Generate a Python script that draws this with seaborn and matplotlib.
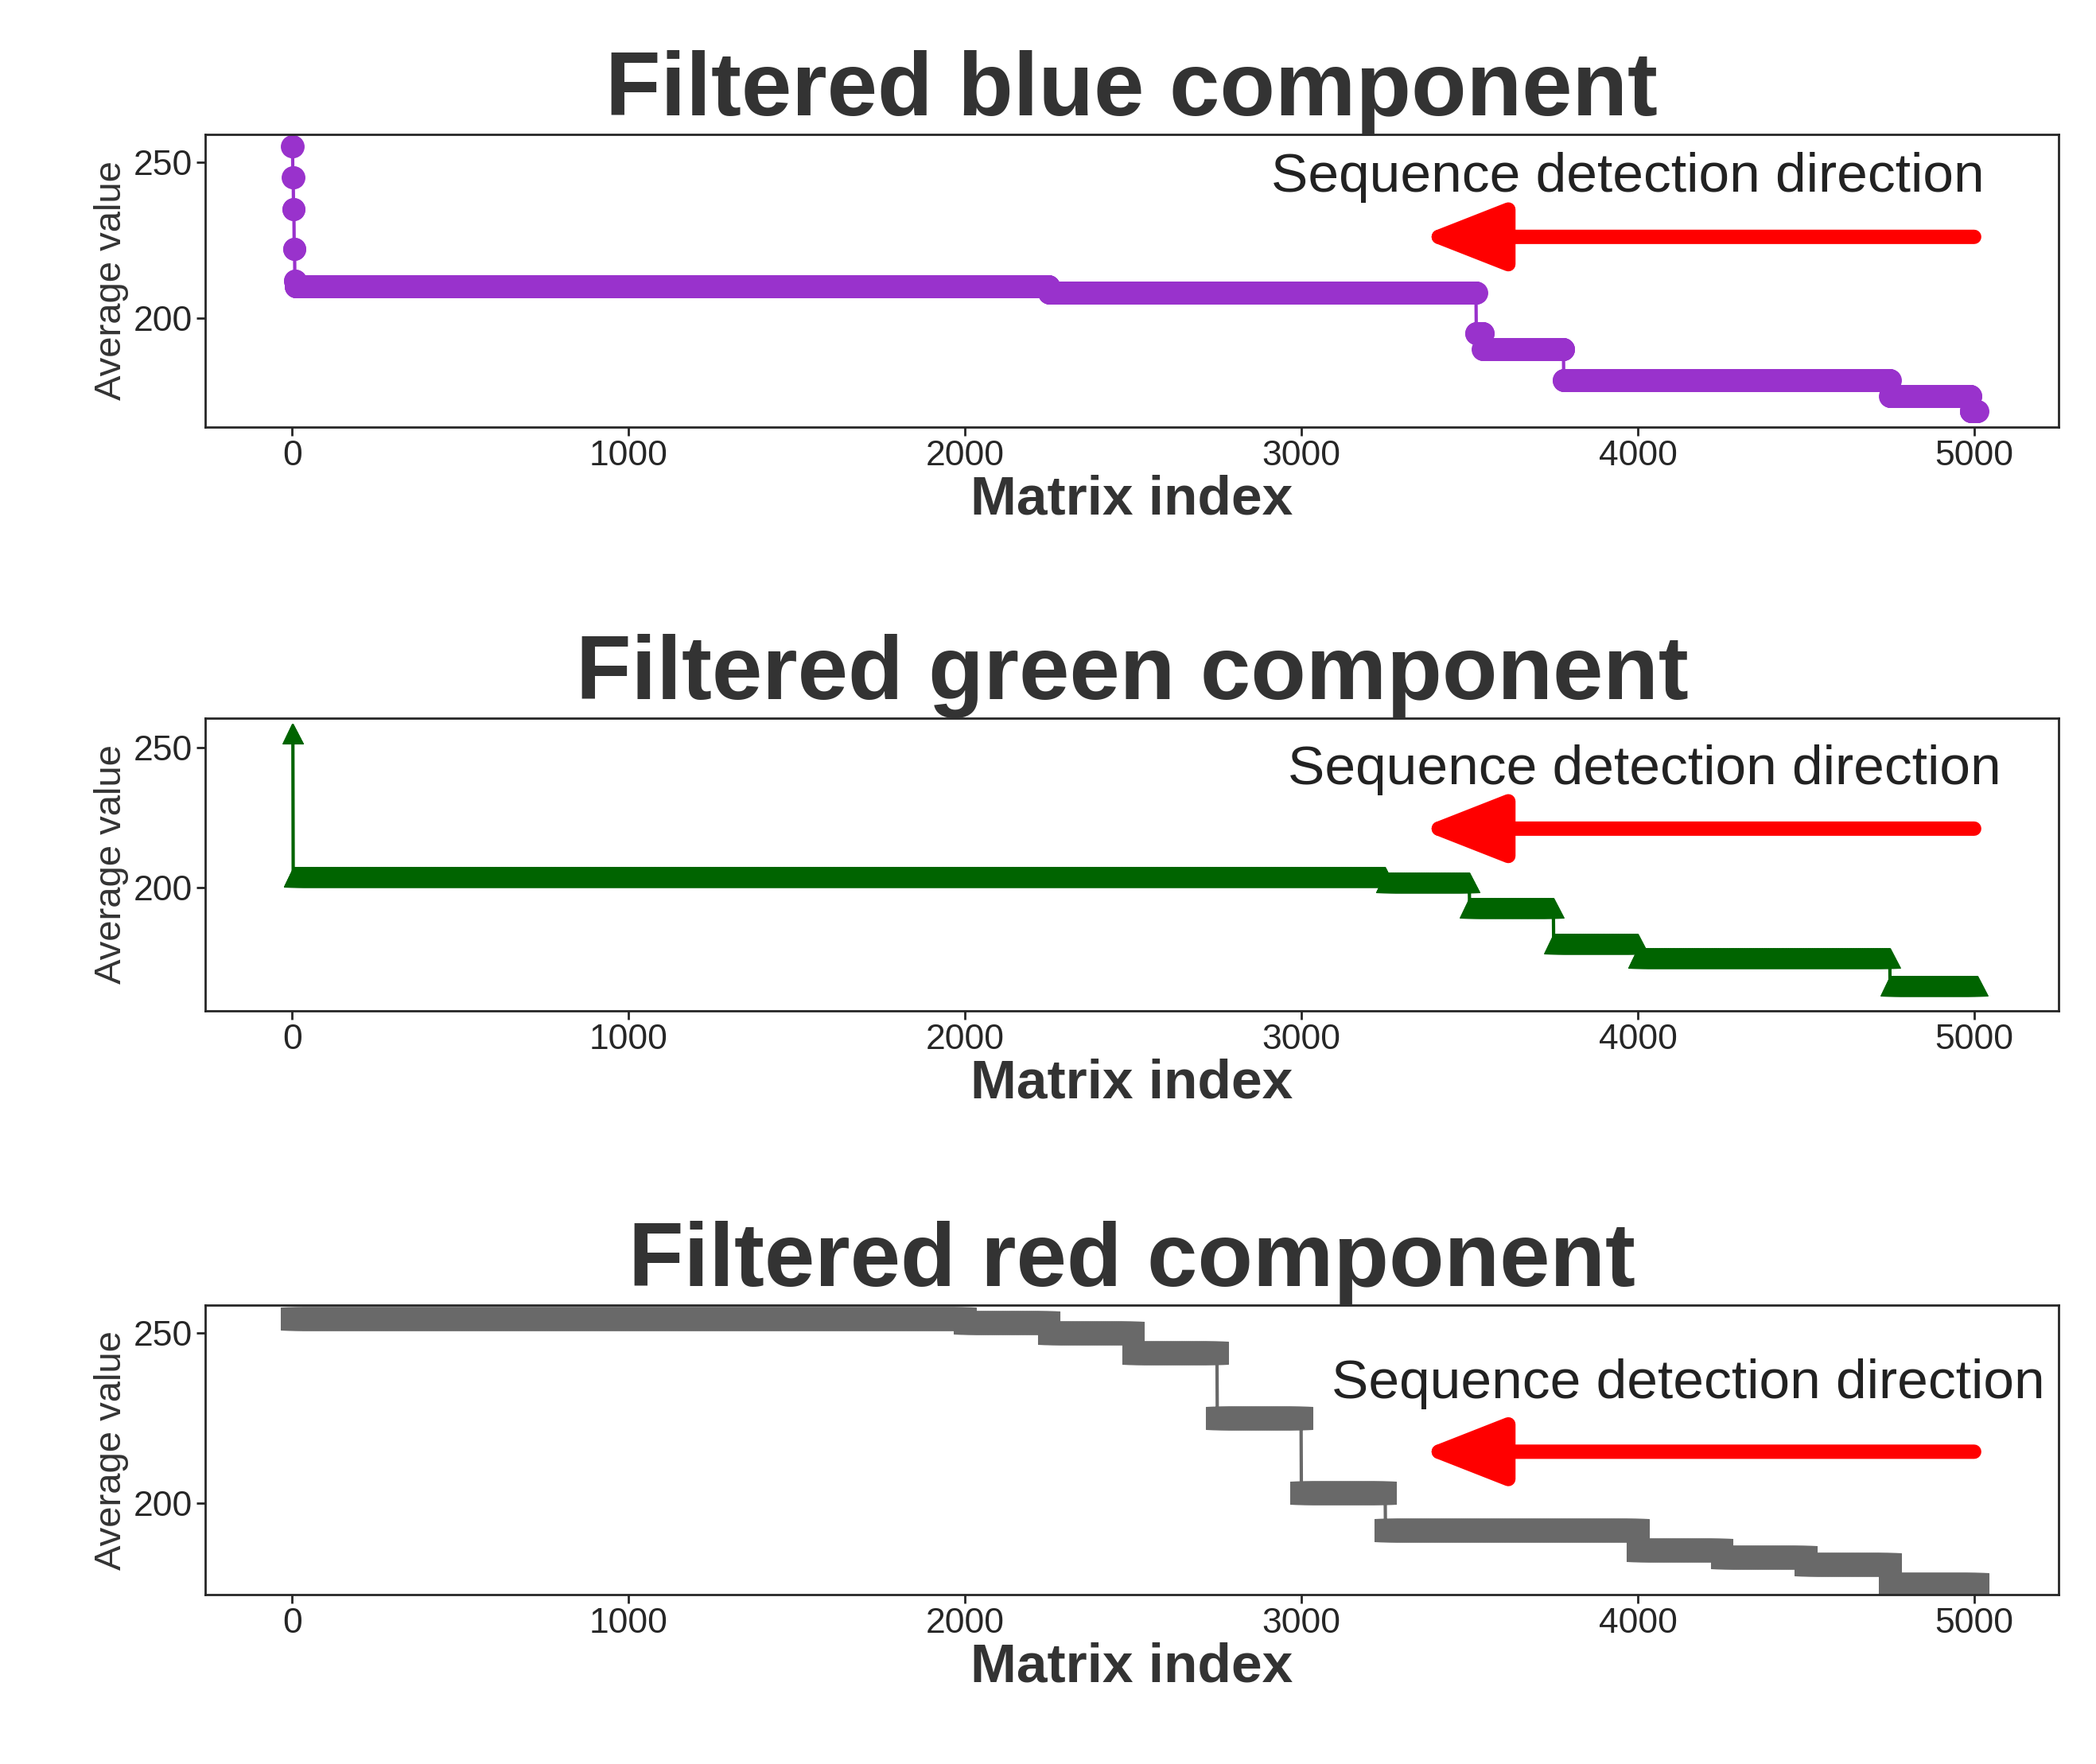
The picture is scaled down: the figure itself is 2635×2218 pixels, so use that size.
import numpy as np
import matplotlib
matplotlib.use("Agg")
import matplotlib.pyplot as plt
import seaborn as sns

sns.set_style("ticks")
plt.rcParams['font.family'] = ['Liberation Sans', 'DejaVu Sans']

# step segments: (start index, end index, average value)
blue_starts = [0, 2, 4, 6, 8, 10, 2250, 3520, 3540, 3780, 4750, 4990]
blue_ends   = [2, 4, 6, 8, 10, 2250, 3520, 3540, 3780, 4750, 4990, 5010]
blue_vals   = [255, 245, 235, 222, 212, 210, 208, 195, 190, 180, 175, 170]

green_starts = [0, 3, 3250, 3500, 3750, 4000, 4750]
green_ends   = [3, 3250, 3500, 3750, 4000, 4750, 5010]
green_vals   = [255, 204, 202, 193, 180, 175, 165]

red_starts = [0, 2000, 2250, 2500, 2750, 3000, 3250, 4000, 4250, 4500, 4750]
red_ends   = [2000, 2250, 2500, 2750, 3000, 3250, 4000, 4250, 4500, 4750, 5010]
red_vals   = [254, 253, 250, 244, 225, 203, 192, 186, 184, 182, 176]

def build(starts, ends, vals):
    y = np.concatenate([np.full(e - s, v, dtype=float) for s, e, v in zip(starts, ends, vals)])
    return np.arange(len(y)), y

panels = [
    ("Filtered blue component", build(blue_starts, blue_ends, blue_vals), "#9932CC", "o", 20, (165, 259), 5030, 245, 226),
    ("Filtered green component", build(green_starts, green_ends, green_vals), "#006400", "^", 18, (156, 260.5), 5080, 242, 221),
    ("Filtered red component", build(red_starts, red_ends, red_vals), "#696969", "s", 20, (173, 258), 5210, 235, 215),
]

fig = plt.figure(figsize=(26.35, 22.18), dpi=100)
boxes = [(0.098, 0.758), (0.098, 0.427), (0.098, 0.096)]
heights = [0.166, 0.166, 0.164]
for (title, (x, y), col, mk, ms, ylim, tx, ty, ay), (l, b), h in zip(panels, boxes, heights):
    ax = fig.add_axes([l, b, 0.884, h])
    sns.lineplot(x=x, y=y, ax=ax, color=col, marker=mk, markersize=ms,
                 markeredgecolor=col, linewidth=3, estimator=None)
    ax.set_xlim(-258, 5250)
    ax.set_ylim(*ylim)
    ax.set_yticks([200, 250])
    ax.set_xticks([0, 1000, 2000, 3000, 4000, 5000])
    ax.tick_params(labelsize=32, width=2, length=8)
    for s in ax.spines.values():
        s.set_linewidth(2)
    ax.set_title(title, fontsize=82, fontweight="bold", color="#333333", pad=16)
    ax.set_xlabel("Matrix index", fontsize=50, fontweight="bold", color="#333333", labelpad=2)
    ax.set_ylabel("Average value", fontsize=34, color="#333333")
    ax.annotate("", xy=(3350, ay), xytext=(5000, ay),
                arrowprops=dict(arrowstyle="-|>,head_length=1.4,head_width=0.55",
                                mutation_scale=45, color="red", lw=13,
                                shrinkA=0, shrinkB=0))
    ax.text(tx, ty, "Sequence detection direction", fontsize=50,
            ha="right", va="center", color="#222222")

fig.savefig("out.png", dpi=100)
